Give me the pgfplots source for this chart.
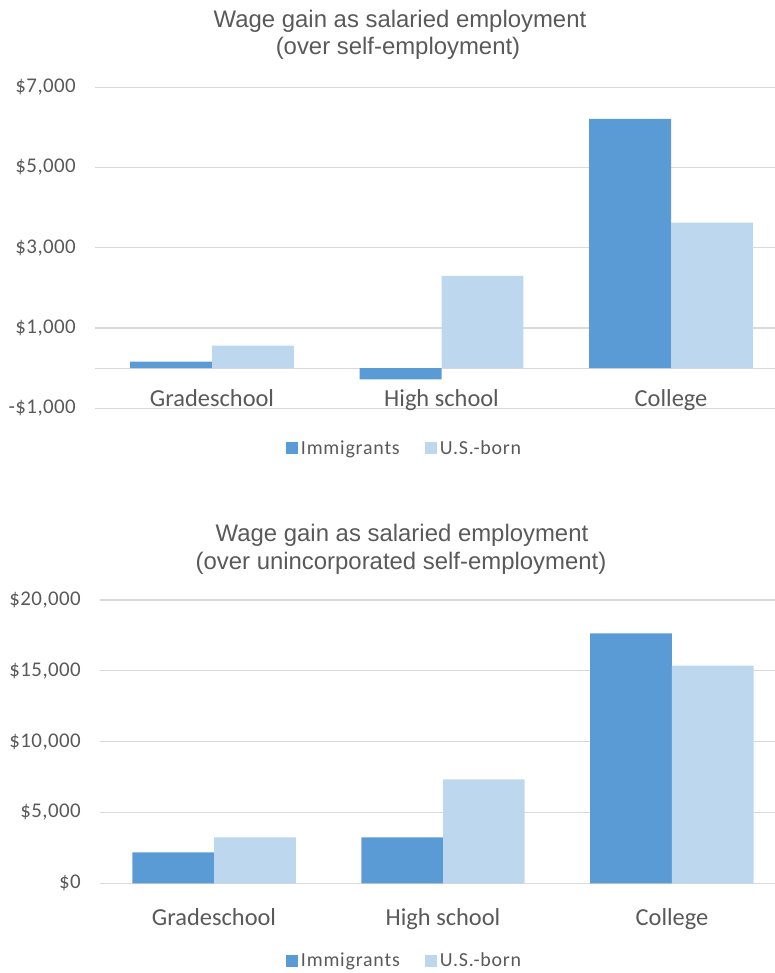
\documentclass[border=0pt]{standalone}
\usepackage{fontspec}
\setmainfont{Carlito}
\newfontfamily\titlefont{Liberation Sans}
\usepackage{pgfplots}
\pgfplotsset{compat=1.18}
\definecolor{imm}{HTML}{5B9BD5}
\definecolor{usb}{HTML}{BDD7EE}
\definecolor{txt}{HTML}{595959}
\definecolor{grd}{HTML}{D9D9D9}
\pgfplotsset{
  sqlegend/.style={legend image code/.code={\fill[##1] (0bp,-6bp) rectangle (12bp,6bp);}},
  mybars/.style={
    scale only axis,
    ybar,
    bar width=0.357,
    axis line style={draw=none},
    major tick length=0pt,
    tick style={draw=none},
    scaled y ticks=false,
    ymajorgrids,
    grid style={grd, line width=1.2bp},
    xtick={0,1,2},
    xticklabels={Gradeschool,High school,College},
    xticklabel style={font=\fontsize{24.5}{29}\selectfont, text=txt, anchor=base},
    yticklabel style={font=\fontsize{21}{25}\selectfont\addfontfeature{LetterSpace=2}, text=txt, anchor=east, inner sep=0pt, xshift=-19bp},
    legend columns=2,
    legend style={draw=none, fill=none, font=\fontsize{20}{24}\selectfont\addfontfeature{LetterSpace=4}, text=txt,
      /tikz/every even column/.append style={column sep=22bp},
      nodes={inner sep=3bp}},
    clip=false,
  }
}
\begin{document}
\begin{tikzpicture}
\useasboundingbox (0,0) rectangle (775bp,973bp);
% ---- top chart ----
\begin{axis}[mybars,
  at={(95bp,564.7bp)}, anchor=south west,
  width=680bp, height=321bp,
  xmin=-0.510, xmax=2.453,
  ymin=-1000, ymax=7000,
  ytick={-1000,1000,3000,5000,7000},
  yticklabels={{-\$1,000},{\$1,000},{\$3,000},{\$5,000},{\$7,000}},
  extra y ticks={0}, extra y tick labels={},
  extra y tick style={grid=major},
  xticklabel style={yshift=1.5bp},
  legend style={at={(0.456,-0.125)}, anchor=center},
]
\addplot[fill=imm, draw=none, bar shift=-0.1785, sqlegend] coordinates {(0,160) (1,-280) (2,6210)};
\addplot[fill=usb, draw=none, bar shift=0.1785, sqlegend] coordinates {(0,560) (1,2300) (2,3630)};
\legend{Immigrants, U.S.-born}
\end{axis}
\node[font=\titlefont\fontsize{24}{28}\selectfont, text=txt, anchor=base] at (400bp,945bp) {Wage gain as salaried employment};
\node[font=\titlefont\fontsize{24}{28}\selectfont, text=txt, anchor=base] at (398bp,918bp) {(over self-employment)};
% ---- bottom chart ----
\begin{axis}[mybars,
  at={(100bp,89.7bp)}, anchor=south west,
  width=675bp, height=283.3bp,
  xmin=-0.498, xmax=2.450,
  ymin=0, ymax=20000,
  ytick={0,5000,10000,15000,20000},
  yticklabels={{\$0},{\$5,000},{\$10,000},{\$15,000},{\$20,000}},
  xticklabel style={yshift=-41.7bp},
  legend style={at={(0.452,-0.2725)}, anchor=center},
]
\addplot[fill=imm, draw=none, bar shift=-0.1785, sqlegend] coordinates {(0,2190) (1,3250) (2,17650)};
\addplot[fill=usb, draw=none, bar shift=0.1785, sqlegend] coordinates {(0,3250) (1,7340) (2,15360)};
\legend{Immigrants, U.S.-born}
\end{axis}
\node[font=\titlefont\fontsize{24}{28}\selectfont, text=txt, anchor=base] at (402bp,431.3bp) {Wage gain as salaried employment};
\node[font=\titlefont\fontsize{24}{28}\selectfont, text=txt, anchor=base] at (401bp,403bp) {(over unincorporated self-employment)};
\end{tikzpicture}
\end{document}
